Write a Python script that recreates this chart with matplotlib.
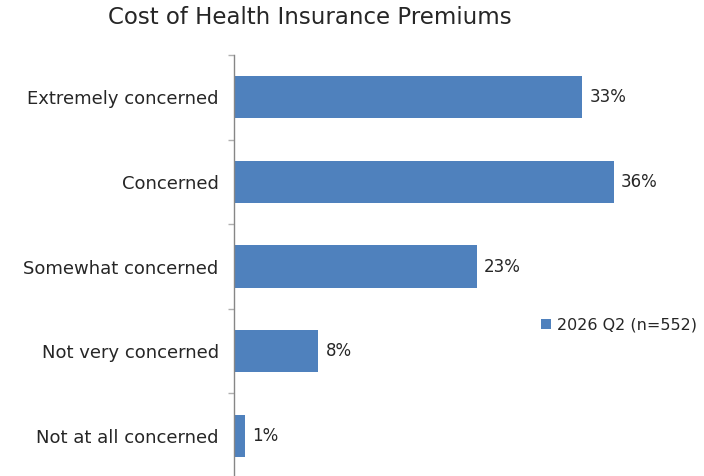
import matplotlib
matplotlib.use("Agg")
import matplotlib.pyplot as plt
from matplotlib.patches import Patch

categories = ["Extremely concerned", "Concerned", "Somewhat concerned",
              "Not very concerned", "Not at all concerned"]
values = [33, 36, 23, 8, 1]
series_name = "2026 Q2 (n=552)"
title = "Cost of Health Insurance Premiums"

bar_color = "#4F81BD"
text_color = "#262626"
axis_color = "#868686"

plt.rcParams["font.family"] = ["DejaVu Sans"]

fig = plt.figure(figsize=(7.04, 4.76), dpi=100)
W, H = 704, 476
ax = fig.add_axes([234 / W, -2 / H, 422 / W, 423 / H])

ypos = list(range(len(categories)))
ax.barh(ypos, values, height=0.5, color=bar_color)
ax.set_xlim(0, 40)
ax.set_ylim(len(categories) - 0.5, -0.5)

for y, v in zip(ypos, values):
    ax.text(v + 0.7, y, f"{v}%", va="center", ha="left", fontsize=12, color=text_color)

ax.set_yticks(ypos)
ax.set_yticklabels(categories, fontsize=13, color=text_color)
ax.tick_params(axis="y", which="major", length=0, pad=11)
# small tick marks at category boundaries
ax.set_yticks([i - 0.5 for i in range(len(categories) + 1)], minor=True)
ax.tick_params(axis="y", which="minor", length=4, width=1, color="#b0b0b0", direction="out")
ax.set_xticks([])
for s in ["top", "right", "bottom"]:
    ax.spines[s].set_visible(False)
ax.spines["left"].set_color(axis_color)
ax.spines["left"].set_linewidth(1)

fig.text(310 / W, 1 - 18 / H, title, ha="center", va="center", fontsize=16.5, color=text_color)

handle = Patch(facecolor=bar_color, edgecolor="none")
fig.legend([handle], [series_name], loc="center left", bbox_to_anchor=(541 / W, 1 - 325 / H),
           frameon=False, fontsize=11.5, handlelength=0.65, handleheight=0.65, handletextpad=0.35,
           borderpad=0, borderaxespad=0, labelcolor=text_color)

fig.savefig("out.png", dpi=100)
